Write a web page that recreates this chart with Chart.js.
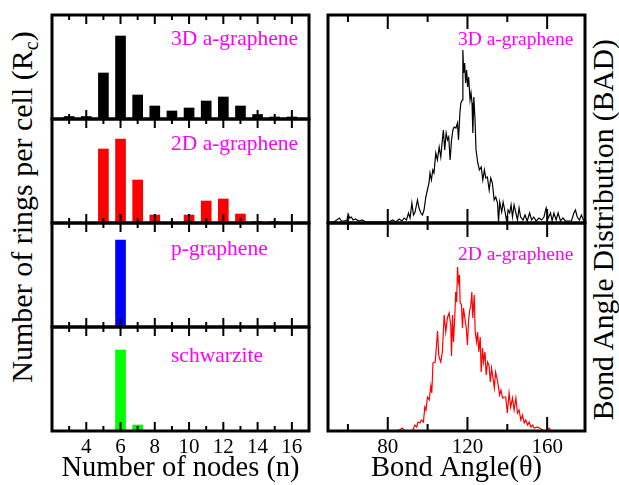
<!DOCTYPE html>
<html>
<head>
<meta charset="utf-8">
<script src="https://cdn.jsdelivr.net/npm/chart.js@4.4.1/dist/chart.umd.min.js"></script>
<style>
  html, body { margin: 0; padding: 0; background: #fff; }
  body { width: 619px; height: 485px; position: relative; overflow: hidden; font-family: "Liberation Serif", serif; }
  canvas { position: absolute; }
  .lbl { position: absolute; color: #ff00ff; white-space: nowrap; line-height: 1; }
  .ytitle { position: absolute; width: 440px; text-align: center; white-space: nowrap; line-height: 1; transform: rotate(-90deg); }
  .ytitle sub { font-size: 20px; vertical-align: -6px; line-height: 0; }
</style>
</head>
<body>
<canvas id="bars3d"></canvas>
<canvas id="bars2d"></canvas>
<canvas id="barsP"></canvas>
<canvas id="barsS"></canvas>
<canvas id="bad3d"></canvas>
<canvas id="bad2d"></canvas>

<div class="ytitle" style="left:-198px; top:192px; font-size:30px;">Number of rings per cell (R<sub>c</sub>)</div>
<div class="ytitle" style="left:384px; top:215px; font-size:29.5px;">Bond Angle Distribution (BAD)</div>

<div class="lbl" style="left:171px; top:28px; font-size:21.5px;">3D a-graphene</div>
<div class="lbl" style="left:171px; top:133px; font-size:21.5px;">2D a-graphene</div>
<div class="lbl" style="left:171px; top:238px; font-size:21.5px;">p-graphene</div>
<div class="lbl" style="left:171px; top:345px; font-size:21.5px;">schwarzite</div>
<div class="lbl" style="left:458px; top:29px; font-size:19.5px;">3D a-graphene</div>
<div class="lbl" style="left:458px; top:244px; font-size:19.5px;">2D a-graphene</div>

<script>
// ring sizes (number of nodes)
const nodeCats = [3, 4, 5, 6, 7, 8, 9, 10, 11, 12, 13, 14, 15, 16];
const rings3D = [2.5, 2.5, 46, 83, 24, 13, 8, 11, 18, 22, 13, 4.5, 2, 2];
const rings2D = [0, 0, 74, 84, 43, 8, 0, 8, 22, 24, 9, 1.5, 1.5, 0];
const ringsP = [0, 0, 0, 87, 0, 0, 0, 0, 0, 0, 0, 0, 0, 0];
const ringsSchw = [0, 0, 0, 81, 6, 0, 0, 0, 0, 0, 0, 0, 0, 0];

const nodeTickLabels = [4, 6, 8, 10, 12, 14, 16];
const nodeMinorTicks = [3, 5, 7, 9, 11, 13, 15];

// bond angle distributions
const angle3D = [50.5, 53, 55.7, 56.7, 57.9, 59.6, 60.1, 60.9, 61.7, 62.6, 63.8, 65.5, 67.1, 69, 72, 75, 78, 80.5,
  82.4, 84.1, 85.7, 87.1, 88.2, 89.4, 90.4, 91.2, 92.1, 92.9, 93.7, 94.9, 95.7, 96.6, 97.4, 98.2, 99.1, 99.9,
  100.7, 101.2, 101.9, 102.6, 103.2, 104.1, 104.9, 105.8, 106.6, 107.4, 107.9, 108.6, 109.3, 110.0, 110.6, 111.3,
  112.0, 112.7, 113.3, 114.2, 115.0, 115.5, 116.2, 116.7, 117.4, 117.7, 118.1, 118.6, 119.1, 119.6, 120.1, 120.6,
  121.3, 121.8, 122.3, 122.7, 123.2, 123.8, 124.3, 125.2, 126.0, 126.9, 127.7, 128.5, 129.2, 130.0, 130.9, 131.7,
  132.5, 133.4, 134.2, 135.1, 135.6, 136.2, 137.2, 137.9, 138.9, 139.7, 140.4, 141.2, 141.9, 142.6, 143.4, 144.2,
  145.1, 145.9, 146.7, 147.9, 148.9, 150.0, 151.2, 152.2, 153.3, 154.5, 155.9, 157.2, 158.4, 159.5, 160.5, 161.7,
  162.5, 163.4, 164.5, 165.5, 166.7, 167.9, 169.2, 170.9, 172.2, 173.4, 174.2, 175.1, 176.2, 177.2, 178.4];
const bad3D = [1, 1, 5, 2, 2, 3, 9, 5, 6, 3, 4, 2, 3, 1, 1, 1, 1, 1,
  3, 1, 4, 2, 5, 3, 10, 5, 20, 8, 11, 23, 15, 10, 8, 13, 26, 33,
  40, 50, 43, 53, 50, 70, 63, 76, 66, 83, 93, 73, 90, 83, 86, 63,
  83, 93, 96, 95, 100, 83, 110, 120, 123, 173, 150, 160, 140, 153, 136, 146,
  123, 130, 120, 90, 126, 103, 73, 60, 53, 56, 43, 53, 45, 46, 33, 45,
  40, 23, 26, 20, 1, 21, 11, 21, 11, 1, 13, 10, 18, 6, 18, 11,
  3, 15, 6, 3, 8, 2, 10, 3, 6, 2, 5, 3, 6, 15, 5, 10,
  2, 10, 3, 10, 2, 5, 2, 2, 2, 10, 13, 6, 3, 8, 2];

const angle2D = [85, 87.3, 88.5, 92.4, 93.6, 94.5, 95.2, 96.2, 96.9, 97.9, 98.6, 99.2, 99.9, 100.8, 101.6, 102.1,
  102.7, 103.8, 104.4, 105.0, 105.6, 106.6, 107.4, 108.3, 109.1, 109.9, 110.8, 111.6, 112.0, 112.5, 113.0, 113.6,
  114.1, 114.6, 115.0, 115.5, 116.0, 116.3, 117.0, 117.5, 118.0, 118.7, 119.4, 120.0, 120.5, 121.0, 121.7, 122.2,
  122.7, 123.4, 123.9, 124.6, 125.1, 125.7, 126.4, 126.9, 127.6, 128.1, 128.8, 129.4, 130.1, 130.8, 131.5, 132.1,
  132.8, 133.5, 134.1, 134.8, 135.5, 136.1, 136.8, 137.6, 138.4, 139.2, 140.0, 140.9, 141.7, 142.6, 143.4, 144.3,
  145.1, 145.9, 146.8, 147.6, 148.5, 149.3, 150.2, 151.0, 151.8, 152.7, 153.5, 155.2, 156.9, 157.7, 159.0, 161.1,
  162.0, 166.0];
const bad2D = [0, 3, 0, 0, 6, 4, 9, 8, 11, 9, 24, 21, 34, 31, 45, 38,
  68, 69, 84, 100, 75, 69, 79, 116, 99, 113, 118, 106, 75, 116, 89, 113,
  139, 129, 164, 149, 156, 129, 126, 103, 123, 113, 103, 86, 109, 119, 126, 139,
  113, 136, 99, 89, 99, 79, 94, 59, 83, 69, 79, 56, 69, 66, 49, 63,
  53, 43, 59, 53, 45, 36, 41, 33, 34, 34, 18, 38, 24, 33, 21, 33,
  18, 21, 11, 16, 8, 11, 6, 9, 4, 6, 3, 4, 2, 1, 0, 3,
  0, 0];

const angleTickLabels = [80, 120, 160];
const angleMinorTicks = [60, 100, 140];

const serif = "'Liberation Serif', 'Times New Roman', serif";

// frame + inward ticks on top and bottom edges
const frameTicks = {
  id: "frameTicks",
  afterDraw(chart, args, opts) {
    const { ctx, chartArea: a } = chart;
    const x = chart.scales.x;
    ctx.save();
    ctx.strokeStyle = "#000";
    ctx.lineWidth = 2;
    const tick = (v, len) => {
      const px = x.getPixelForValue(v);
      ctx.beginPath();
      ctx.moveTo(px, a.top);
      ctx.lineTo(px, a.top + len);
      ctx.moveTo(px, a.bottom);
      ctx.lineTo(px, a.bottom - len);
      ctx.stroke();
    };
    opts.major.forEach(v => tick(v, opts.majorLen));
    opts.minor.forEach(v => tick(v, opts.minorLen));
    ctx.lineWidth = 3;
    ctx.strokeRect(a.left, a.top, a.right - a.left, a.bottom - a.top);
    ctx.restore();
  },
};

function place(id, left, top, w, h) {
  const el = document.getElementById(id);
  el.width = w;
  el.height = h;
  el.style.left = left + "px";
  el.style.top = top + "px";
  return el;
}

function xAxis(min, max, labels, title, bottom) {
  return {
    type: "linear",
    min, max,
    offset: false,
    display: bottom,
    grid: { display: false, drawTicks: false },
    border: { display: false },
    afterBuildTicks: s => { s.ticks = labels.map(v => ({ value: v })); },
    afterFit: s => { if (bottom) s.height = 52; },
    ticks: { color: "#000", padding: 4, font: { family: serif, size: 21, lineHeight: 1.2 } },
    title: {
      display: bottom,
      text: title,
      color: "#000",
      padding: { top: 0, bottom: 0 },
      font: { family: serif, size: 28.5, lineHeight: 1 },
    },
  };
}

function ringsChart(id, top, values, color, bottom) {
  const h = 104 + 4 + (bottom ? 52 : 0);
  const el = place(id, 50, top - 2, 261, h);
  return new Chart(el, {
    type: "bar",
    data: {
      datasets: [{
        data: nodeCats.map((n, i) => ({ x: n, y: values[i] })),
        backgroundColor: color,
        barThickness: 10,
        borderWidth: 0,
      }],
    },
    options: {
      responsive: false,
      animation: false,
      layout: { padding: 2 },
      plugins: {
        legend: { display: false },
        tooltip: { enabled: false },
        frameTicks: { major: nodeTickLabels, minor: nodeMinorTicks, majorLen: 9, minorLen: 5 },
      },
      scales: {
        x: xAxis(2, 17, nodeTickLabels, "Number of nodes (n)", bottom),
        y: { display: false, min: 0, max: 104 },
      },
    },
    plugins: [frameTicks],
  });
}

function badChart(id, top, angles, values, color, bottom) {
  const h = 208 + 4 + (bottom ? 52 : 0);
  const el = place(id, 326, top - 2, 261, h);
  return new Chart(el, {
    type: "line",
    data: {
      datasets: [{
        data: angles.map((a, i) => ({ x: a, y: values[i] })),
        borderColor: color,
        borderWidth: 1.2,
        pointRadius: 0,
        tension: 0,
        fill: false,
      }],
    },
    options: {
      responsive: false,
      animation: false,
      layout: { padding: 2 },
      plugins: {
        legend: { display: false },
        tooltip: { enabled: false },
        frameTicks: { major: angleTickLabels, minor: angleMinorTicks, majorLen: 14, minorLen: 7 },
      },
      scales: {
        x: xAxis(50, 179, angleTickLabels, "Bond Angle(\u03b8)", bottom),
        y: { display: false, min: 0, max: 208 },
      },
    },
    plugins: [frameTicks],
  });
}

ringsChart("bars3d", 15, rings3D, "#000000", false);
ringsChart("bars2d", 119, rings2D, "#ff0000", false);
ringsChart("barsP", 223, ringsP, "#0000ff", false);
ringsChart("barsS", 327, ringsSchw, "#00ff00", true);

badChart("bad3d", 15, angle3D, bad3D, "#000000", false);
badChart("bad2d", 223, angle2D, bad2D, "#ff0000", true);
</script>
</body>
</html>
